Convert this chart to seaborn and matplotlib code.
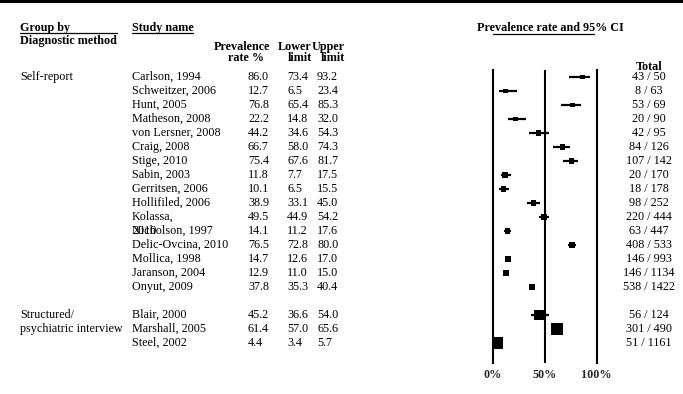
import matplotlib
matplotlib.use("Agg")
import matplotlib.pyplot as plt
import numpy as np
import pandas as pd
import seaborn as sns
from matplotlib.lines import Line2D
from matplotlib.transforms import blended_transform_factory

# ---- data -----------------------------------------------------------------
studies = ["Carlson, 1994", "Schweitzer, 2006", "Hunt, 2005", "Matheson, 2008",
           "von Lersner, 2008", "Craig, 2008", "Stige, 2010", "Sabin, 2003",
           "Gerritsen, 2006", "Hollifiled, 2006", "Kolassa,\n2010", "Nicholson, 1997",
           "Delic-Ovcina, 2010", "Mollica, 1998", "Jaranson, 2004", "Onyut, 2009",
           "Blair, 2000", "Marshall, 2005", "Steel, 2002"]
method = ["Self-report"] * 16 + ["Structured/\npsychiatric interview"] * 3
rate = [86.0, 12.7, 76.8, 22.2, 44.2, 66.7, 75.4, 11.8, 10.1, 38.9, 49.5, 14.1,
        76.5, 14.7, 12.9, 37.8, 45.2, 61.4, 4.4]
lower = [73.4, 6.5, 65.4, 14.8, 34.6, 58.0, 67.6, 7.7, 6.5, 33.1, 44.9, 11.2,
         72.8, 12.6, 11.0, 35.3, 36.6, 57.0, 3.4]
upper = [93.2, 23.4, 85.3, 32.0, 54.3, 74.3, 81.7, 17.5, 15.5, 45.0, 54.2, 17.6,
         80.0, 17.0, 15.0, 40.4, 54.0, 65.6, 5.7]
events = [43, 8, 53, 20, 42, 84, 107, 20, 18, 98, 220, 63, 408, 146, 146, 538,
          56, 301, 51]
totals = [50, 63, 69, 90, 95, 126, 142, 170, 178, 252, 444, 447, 533, 993, 1134,
          1422, 124, 490, 1161]
# relative weight within subgroup (%)
weight = [6.0, 6.0, 6.2, 6.2, 6.4, 6.4, 6.6, 6.6, 6.6, 7.0, 7.6, 7.6, 7.8, 8.0,
          8.0, 8.2, 30.0, 36.0, 36.0]

# ---- layout helpers ---------------------------------------------------------
W, H = 683, 394
FS = 8.7
FONT = "Liberation Serif"

rows = []
r = 0
for i, m in enumerate(method):
    if i > 0 and m != method[i - 1]:
        r += 1
    rows.append(r)
    r += 1

df = pd.DataFrame({"study": studies, "method": method, "rate": rate,
                   "lower": lower, "upper": upper, "weight": weight,
                   "row": rows})

sns.set_theme(style="white")
plt.rcParams["font.family"] = [FONT, "DejaVu Serif"]
plt.rcParams["text.color"] = "black"

fig = plt.figure(figsize=(W / 100, H / 100), dpi=100)


def fx(x):
    return x / W


def fy(y):
    return 1 - y / H


# forest axes: 0-100 % spans the plotting column
ax = fig.add_axes([fx(492.7), fy(363), 104 / W, 293 / H])
ax.set_xlim(0, 100)
ax.set_ylim(20.43, -0.5)

ax.hlines(df["row"], df["lower"], df["upper"], color="black", lw=1.6, zorder=2)
sns.scatterplot(data=df, x="rate", y="row", size="weight", sizes=(0, 207.4),
                size_norm=(0, 100), marker="s", color="black", linewidth=0,
                legend=False, ax=ax, zorder=3)
ax.axvline(50, color="black", lw=1.5, zorder=1)

for side in ["top", "bottom"]:
    ax.spines[side].set_visible(False)
for side in ["left", "right"]:
    ax.spines[side].set_visible(True)
    ax.spines[side].set_color("black")
    ax.spines[side].set_linewidth(1.5)

ax.set_xticks([0, 50, 100])
ax.set_xticklabels(["0%", "50%", "100%"], fontsize=FS, fontweight="bold")
ax.tick_params(axis="x", length=0, pad=4)
ax.set_yticks([])
ax.set_xlabel("")
ax.set_ylabel("")
ax.grid(False)

# ---- table columns ----------------------------------------------------------
trans = blended_transform_factory(fig.transFigure, ax.transData)
txt = dict(fontsize=FS, va="center", transform=trans, clip_on=False)

prev_m = None
for _, d in df.iterrows():
    y = d["row"]
    if d["method"] != prev_m:
        for k, line in enumerate(d["method"].split("\n")):
            fig.text(fx(20), y + k, line, ha="left", **txt)
        prev_m = d["method"]
    for k, line in enumerate(d["study"].split("\n")):
        fig.text(fx(132), y + k, line, ha="left", **txt)
    fig.text(fx(248), y, f"{d['rate']:.1f}", ha="left", **txt)
    fig.text(fx(287), y, f"{d['lower']:.1f}", ha="left", **txt)
    fig.text(fx(317), y, f"{d['upper']:.1f}", ha="left", **txt)

for y, e, n in zip(rows, events, totals):
    fig.text(fx(648.5), y, f"{e} / {n}", ha="center", **txt)

# ---- headers ----------------------------------------------------------------
hdr = dict(fontsize=FS, fontweight="bold", va="center")
fig.text(fx(20), fy(28), "Group by", ha="left", **hdr)
fig.text(fx(20), fy(41), "Diagnostic method", ha="left", **hdr)
fig.text(fx(132), fy(28), "Study name", ha="left", **hdr)
fig.text(fx(242), fy(47), "Prevalence", ha="center", **hdr)
fig.text(fx(246), fy(58), "rate %", ha="center", **hdr)
fig.text(fx(312), fy(47), "Lower", ha="right", **hdr)
fig.text(fx(312), fy(58), "limit", ha="right", **hdr)
fig.text(fx(345), fy(47), "Upper", ha="right", **hdr)
fig.text(fx(345), fy(58), "limit", ha="right", **hdr)
fig.text(fx(477), fy(28), "Prevalence rate and 95% CI", ha="left", **hdr)
fig.text(fx(649), fy(67), "Total", ha="center", **hdr)

# rules: top border and header underlines
fig.add_artist(Line2D([0, 1], [fy(1.3), fy(1.3)], color="black", lw=2.2))
for x0, x1, y in [(20, 117, 33), (132, 193, 33), (493, 594, 34)]:
    fig.add_artist(Line2D([fx(x0), fx(x1)], [fy(y), fy(y)], color="black", lw=0.9))

fig.savefig("out.png", dpi=100)
